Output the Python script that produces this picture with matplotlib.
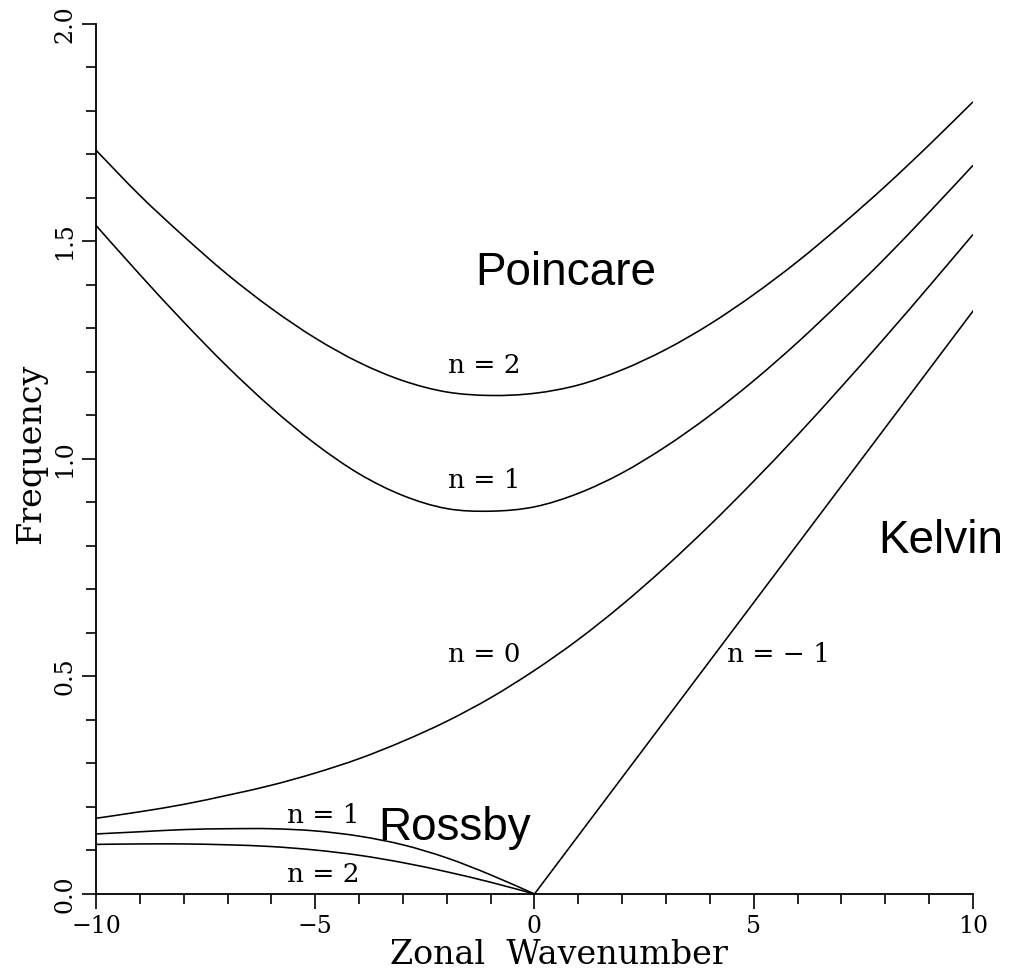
import matplotlib
matplotlib.use("Agg")
import matplotlib.pyplot as plt
from matplotlib.path import Path
from matplotlib.patches import PathPatch
from matplotlib.ticker import MultipleLocator, FixedLocator

# Zonal wavenumbers
k_all = [-10, -9, -8, -7, -6, -5, -4, -3, -2, -1, 0, 1, 2, 3, 4, 5, 6, 7, 8, 9, 10]
k_west = [-10, -9, -8, -7, -6, -5, -4, -3, -2, -1, 0]
k_east = [0, 1, 2, 3, 4, 5, 6, 7, 8, 9, 10]

# Frequencies of the equatorial wave branches
poincare_n2 = [1.710, 1.606, 1.512, 1.424, 1.346, 1.278, 1.222, 1.180, 1.154, 1.146, 1.151,
               1.170, 1.205, 1.252, 1.310, 1.378, 1.454, 1.538, 1.627, 1.722, 1.821]
poincare_n1 = [1.537, 1.424, 1.315, 1.212, 1.118, 1.035, 0.966, 0.916, 0.886, 0.880, 0.890,
               0.921, 0.968, 1.029, 1.100, 1.180, 1.268, 1.363, 1.462, 1.567, 1.675]
mixed_n0 = [0.174, 0.189, 0.206, 0.227, 0.250, 0.278, 0.311, 0.351, 0.397, 0.451, 0.514,
            0.585, 0.665, 0.753, 0.848, 0.949, 1.055, 1.166, 1.280, 1.397, 1.516]
kelvin = [0.0, 0.134, 0.268, 0.402, 0.536, 0.670, 0.804, 0.938, 1.072, 1.206, 1.340]
rossby_n1 = [0.138, 0.143, 0.148, 0.150, 0.150, 0.145, 0.133, 0.113, 0.083, 0.044, 0.0]
rossby_n2 = [0.114, 0.115, 0.115, 0.113, 0.109, 0.101, 0.089, 0.072, 0.051, 0.027, 0.0]

x_ticks = [-10, -5, 0, 5, 10]
x_ticklabels = ["\u221210", "\u22125", "0", "5", "10"]
y_ticks = [0.0, 0.5, 1.0, 1.5, 2.0]
y_ticklabels = ["0.0", "0.5", "1.0", "1.5", "2.0"]

serif = "DejaVu Serif"
sans = "Liberation Sans"
LW = 1.15


def smooth_curve(ax, xs, ys, **kw):
    """Draw a smooth (Catmull-Rom style Bezier) curve through the given points."""
    n = len(xs)
    verts = [(xs[0], ys[0])]
    codes = [Path.MOVETO]
    for i in range(n - 1):
        x0, y0 = (xs[i - 1], ys[i - 1]) if i > 0 else (xs[i], ys[i])
        x1, y1 = xs[i], ys[i]
        x2, y2 = xs[i + 1], ys[i + 1]
        x3, y3 = (xs[i + 2], ys[i + 2]) if i + 2 < n else (xs[i + 1], ys[i + 1])
        c1 = (x1 + (x2 - x0) / 6.0, y1 + (y2 - y0) / 6.0)
        c2 = (x2 - (x3 - x1) / 6.0, y2 - (y3 - y1) / 6.0)
        verts += [c1, c2, (x2, y2)]
        codes += [Path.CURVE4, Path.CURVE4, Path.CURVE4]
    patch = PathPatch(Path(verts, codes), fill=False, transform=ax.transData, **kw)
    ax.add_patch(patch)


fig = plt.figure(figsize=(10.09, 9.75), dpi=100)
ax = fig.add_axes([0.0951, 0.0831, 0.8692, 0.8923])

for y in (poincare_n2, poincare_n1, mixed_n0):
    smooth_curve(ax, k_all, y, edgecolor="black", lw=LW)
ax.plot(k_east, kelvin, color="black", lw=LW)
smooth_curve(ax, k_west, rossby_n1, edgecolor="black", lw=LW)
smooth_curve(ax, k_west, rossby_n2, edgecolor="black", lw=LW)

ax.set_xlim(-10, 10)
ax.set_ylim(0, 2)

for side in ("top", "right"):
    ax.spines[side].set_visible(False)
for side in ("left", "bottom"):
    ax.spines[side].set_linewidth(1.3)

ax.xaxis.set_major_locator(FixedLocator(x_ticks))
ax.xaxis.set_minor_locator(MultipleLocator(1))
ax.yaxis.set_major_locator(FixedLocator(y_ticks))
ax.yaxis.set_minor_locator(MultipleLocator(0.1))
ax.set_xticklabels(x_ticklabels, fontfamily=serif, fontsize=17)
ax.set_yticklabels(y_ticklabels, fontfamily=serif, fontsize=17, rotation=90, va="center")

ax.tick_params(axis="x", which="major", direction="out", length=11, width=1.2, pad=4)
ax.tick_params(axis="x", which="minor", direction="out", length=7, width=1.2)
ax.tick_params(axis="y", which="major", direction="out", length=10, width=1.2, pad=4)
ax.tick_params(axis="y", which="minor", direction="out", length=7, width=1.2)

ax.set_xlabel("Zonal  Wavenumber", fontfamily=serif, fontsize=24)
ax.xaxis.set_label_coords(0.528, -0.070)
ax.xaxis.label.set_va("center")
ax.set_ylabel("Frequency", fontfamily=serif, fontsize=24)
ax.yaxis.set_label_coords(-0.074, 0.506)
ax.yaxis.label.set_va("center")

# Branch labels
nfs = 19
ax.text(-1.97, 1.198, "n = 2", fontfamily=serif, fontsize=nfs, ha="left", va="baseline")
ax.text(-1.97, 0.933, "n = 1", fontfamily=serif, fontsize=nfs, ha="left", va="baseline")
ax.text(-1.97, 0.533, "n = 0", fontfamily=serif, fontsize=nfs, ha="left", va="baseline")
ax.text(4.39, 0.533, "n = \u2212 1", fontfamily=serif, fontsize=nfs, ha="left", va="baseline")
ax.text(-5.64, 0.163, "n = 1", fontfamily=serif, fontsize=nfs, ha="left", va="baseline")
ax.text(-5.64, 0.028, "n = 2", fontfamily=serif, fontsize=nfs, ha="left", va="baseline")

# Wave family names
ax.text(-1.36, 1.40, "Poincare", fontfamily=sans, fontsize=33, ha="left", va="baseline")
ax.text(-3.57, 0.124, "Rossby", fontfamily=sans, fontsize=33, ha="left", va="baseline")
ax.text(7.83, 0.784, "Kelvin", fontfamily=sans, fontsize=33, ha="left", va="baseline",
        clip_on=False)

fig.savefig("out.png", dpi=100)
